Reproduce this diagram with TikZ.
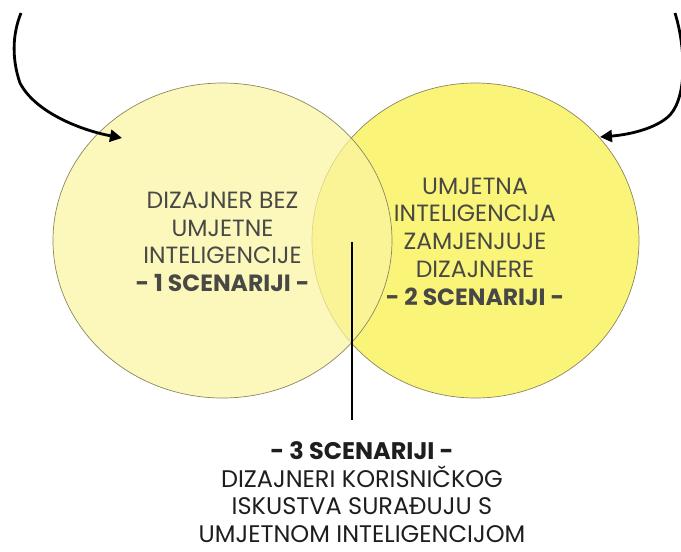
\documentclass[tikz,border=0pt]{standalone}
\usepackage{fontspec}
\setmainfont{Poppins}
\usetikzlibrary{arrows.meta}
\usetikzlibrary{shapes.geometric}

\definecolor{setleft}{RGB}{251,245,162}
\definecolor{setright}{RGB}{250,244,120}
\definecolor{setedge}{RGB}{140,134,96}
\definecolor{innertext}{RGB}{72,72,70}
\definecolor{outertext}{RGB}{30,30,30}

\tikzset{
  venn/.style={ellipse,draw=setedge,line width=0.7pt,inner sep=0pt,outer sep=0pt},
  label text/.style={align=center,inner sep=0pt,text=innertext,font=\fontsize{23.5}{27.7}\selectfont},
  pointer/.style={line width=2.8pt,->}
}

\begin{document}
\begin{tikzpicture}[>={Triangle[length=12pt,width=12pt]},x=1pt,y=-1pt]
\useasboundingbox (0,0) rectangle (681,552);
% right set
\node[venn,fill=setright,minimum width=327pt,minimum height=315pt] (rightset) at (475.5,240.5) {};
% left set, over the right one
\node[venn,fill=setleft,fill opacity=0.72,minimum width=339pt,minimum height=315pt] (leftset) at (222.5,240.5) {};
% texts
\node[label text] (scen1) at (222.5,242) {DIZAJNER BEZ\\UMJETNE\\INTELIGENCIJE\\\textbf{- 1 SCENARIJI -}};
\node[label text] (scen2) at (475,241.5) {UMJETNA\\INTELIGENCIJA\\ZAMJENJUJE\\DIZAJNERE\\\textbf{- 2 SCENARIJI -}};
\node[label text,text=outertext,font=\fontsize{24}{27.6}\selectfont] (scen3) at (362,492) {\textbf{- 3 SCENARIJI -}\\DIZAJNERI KORISNIČKOG\\ISKUSTVA SURAĐUJU S\\UMJETNOM INTELIGENCIJOM};
% pointer to the overlap
\coordinate (lenstop) at (352,242);
\coordinate (lensfoot) at (352,420);
\draw[line width=1.2pt] (lenstop)--(lensfoot);
% left arrow
\coordinate (lstart) at (21,13);
\coordinate (lbend) at (20,83);
\coordinate (ltip) at (122,138);
\draw[pointer] (lstart) .. controls (12,35) and (12,60) .. (lbend) .. controls (35,112) and (80,130) .. (ltip);
% right arrow
\coordinate (rstart) at (675,13);
\coordinate (rbend) at (670,115);
\coordinate (rtip) at (600,137);
\draw[pointer] (rstart) .. controls (685,45) and (688,95) .. (rbend) .. controls (655,130) and (625,135) .. (rtip);
\end{tikzpicture}
\end{document}
